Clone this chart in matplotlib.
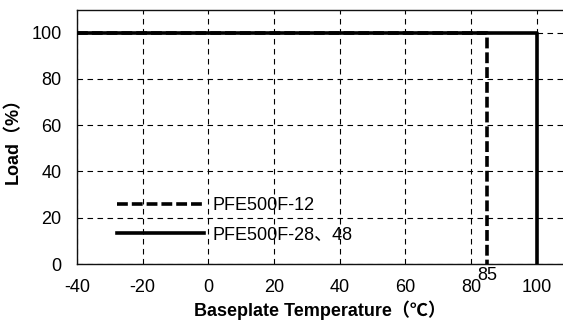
import matplotlib
matplotlib.use("Agg")
import matplotlib.pyplot as plt

plt.rcParams['font.family'] = ['Liberation Sans', 'Noto Sans CJK JP', 'DejaVu Sans']
plt.rcParams['axes.unicode_minus'] = False

# derating curves (baseplate temperature, load %)
temp_12 = [-40, 85, 85]
load_12 = [100, 100, 0]
temp_28_48 = [-40, 100, 100]
load_28_48 = [100, 100, 0]

labels = ["PFE500F-12", "PFE500F-28、48"]
x_ticks = [-40, -20, 0, 20, 40, 60, 80, 100]
y_ticks = [0, 20, 40, 60, 80, 100]
marker_temp = 85

fig = plt.figure(figsize=(5.63, 3.28), dpi=100)
ax = fig.add_axes([0.1368, 0.195, 0.8632, 0.776])

ax.set_xlim(-40, 108)
ax.set_ylim(0, 110)
ax.set_xticks(x_ticks)
ax.set_yticks(y_ticks)
ax.tick_params(length=0, labelsize=13)
ax.tick_params(axis="x", pad=11)
ax.tick_params(axis="y", pad=11)

ax.grid(True, color="black", linewidth=0.8, linestyle=(0, (5, 4)))
ax.set_axisbelow(True)

for s in ["left", "bottom", "top"]:
    ax.spines[s].set_color("#111111")
    ax.spines[s].set_linewidth(1.0)
ax.spines["right"].set_visible(False)

l1, = ax.plot(temp_12, load_12, color="black", linewidth=2.6,
              linestyle=(0, (3, 1.1)), label=labels[0], zorder=3)
l2, = ax.plot(temp_28_48, load_28_48, color="black", linewidth=2.6,
              label=labels[1], zorder=4)

ax.annotate(str(marker_temp), xy=(marker_temp, 0), xytext=(0, -2),
            textcoords="offset points", ha="center", va="top", fontsize=13)

ax.legend(handles=[l1, l2], loc="lower left", bbox_to_anchor=(0.082, 0.08),
          frameon=False, fontsize=13, handlelength=4.8, handletextpad=0.5,
          labelspacing=0.68, borderpad=0, borderaxespad=0)

ax.set_xlabel("Baseplate Temperature（℃）", fontsize=13, fontweight="bold", labelpad=3)
ax.set_ylabel("Load（%）", fontsize=13, fontweight="bold", labelpad=7)

fig.savefig("out.png", dpi=100)
